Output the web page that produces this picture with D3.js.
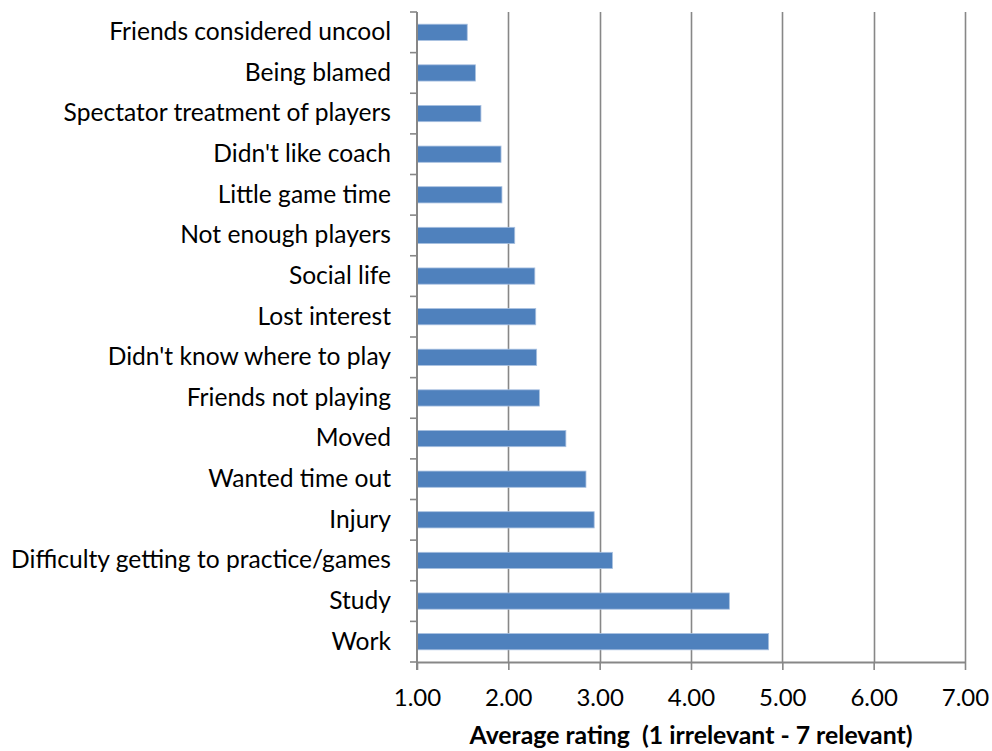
<!DOCTYPE html>
<meta charset="utf-8">
<style>
  body { margin: 0; background: #fff; }
  text { font-family: Lato, "Open Sans", sans-serif; }
</style>
<script src="https://d3js.org/d3.v7.min.js"></script>
<div id="vis"></div>
<script>

    // categories, top to bottom as drawn
    var reasons = ["Friends considered uncool", "Being blamed", "Spectator treatment of players",
        "Didn't like coach", "Little game time", "Not enough players", "Social life", "Lost interest",
        "Didn't know where to play", "Friends not playing", "Moved", "Wanted time out", "Injury",
        "Difficulty getting to practice/games", "Study", "Work"];
    var ratings = [1.55, 1.64, 1.70, 1.92, 1.93, 2.07, 2.29, 2.30, 2.31, 2.34, 2.63, 2.85, 2.94, 3.14, 4.42, 4.85];
    var xTicks = [1, 2, 3, 4, 5, 6, 7];
    var xTitle = "Average rating  (1 irrelevant - 7 relevant)";

    var data = reasons.map(function (r, i) { return { reason: r, value: ratings[i] }; });

    var W = 992, H = 751;
    var margin = { top: 12, right: 27, bottom: 89, left: 417 },
        width = W - margin.left - margin.right,
        height = H - margin.top - margin.bottom;

    var svg = d3.select("#vis")
        .append("svg")
        .attr("width", W)
        .attr("height", H)
        .append("g")
        .attr("transform", "translate(" + margin.left + "," + margin.top + ")");

    var x = d3.scaleLinear().domain([1, 7]).range([0, width]);
    var y = d3.scaleBand().domain(reasons).range([0, height])
        .paddingInner(0.6).paddingOuter(0.3);

    var grey = "#878787";

    // vertical gridlines
    svg.append("g")
        .selectAll("line")
        .data(xTicks.slice(1))
        .enter().append("line")
        .attr("x1", function (d) { return Math.round(x(d)) + 0.5; })
        .attr("x2", function (d) { return Math.round(x(d)) + 0.5; })
        .attr("y1", 0).attr("y2", height)
        .style("stroke", grey).style("stroke-width", 1.6);

    // bars
    svg.selectAll(".bar")
        .data(data)
        .enter().append("rect")
        .attr("class", "bar")
        .attr("x", x(1))
        .attr("y", function (d) { return y(d.reason); })
        .attr("width", function (d) { return x(d.value) - x(1); })
        .attr("height", y.bandwidth())
        .style("fill", "#4F81BD")
        .style("stroke", "#a9c1e0")
        .style("stroke-width", 0.8);

    // x axis
    var xAxis = svg.append("g")
        .attr("transform", "translate(0," + height + ")")
        .call(d3.axisBottom(x).tickValues(xTicks).tickSizeInner(8).tickSizeOuter(0).tickPadding(19)
            .tickFormat(d3.format(".2f")));
    xAxis.select(".domain").style("stroke", grey).style("stroke-width", 2);
    xAxis.selectAll(".tick line").style("stroke", grey).style("stroke-width", 1.6);
    xAxis.selectAll("text").style("font-size", "24px").style("fill", "#000")
        .style("font-family", "Lato, sans-serif");

    // y axis: labels centred on bars, ticks at category boundaries
    var yAxis = svg.append("g")
        .call(d3.axisLeft(y).tickSize(0).tickPadding(26));
    yAxis.select(".domain").remove();
    yAxis.selectAll("text").style("font-size", "24.6px").style("fill", "#000")
        .style("font-family", "Lato, sans-serif");

    svg.append("line")
        .attr("x1", 0).attr("x2", 0).attr("y1", 0).attr("y2", height + 8)
        .style("stroke", grey).style("stroke-width", 2);

    var bounds = d3.range(reasons.length + 1).map(function (i) { return i * y.step(); });
    svg.append("g")
        .selectAll("line")
        .data(bounds)
        .enter().append("line")
        .attr("x1", -7).attr("x2", 0)
        .attr("y1", function (d) { return d; })
        .attr("y2", function (d) { return d; })
        .style("stroke", grey).style("stroke-width", 1.6);

    // axis title
    svg.append("text")
        .attr("x", width / 2)
        .attr("y", height + 82)
        .attr("text-anchor", "middle")
        .style("font-size", "24.8px")
        .style("font-weight", "bold")
        .style("white-space", "pre")
        .text(xTitle);

</script>
